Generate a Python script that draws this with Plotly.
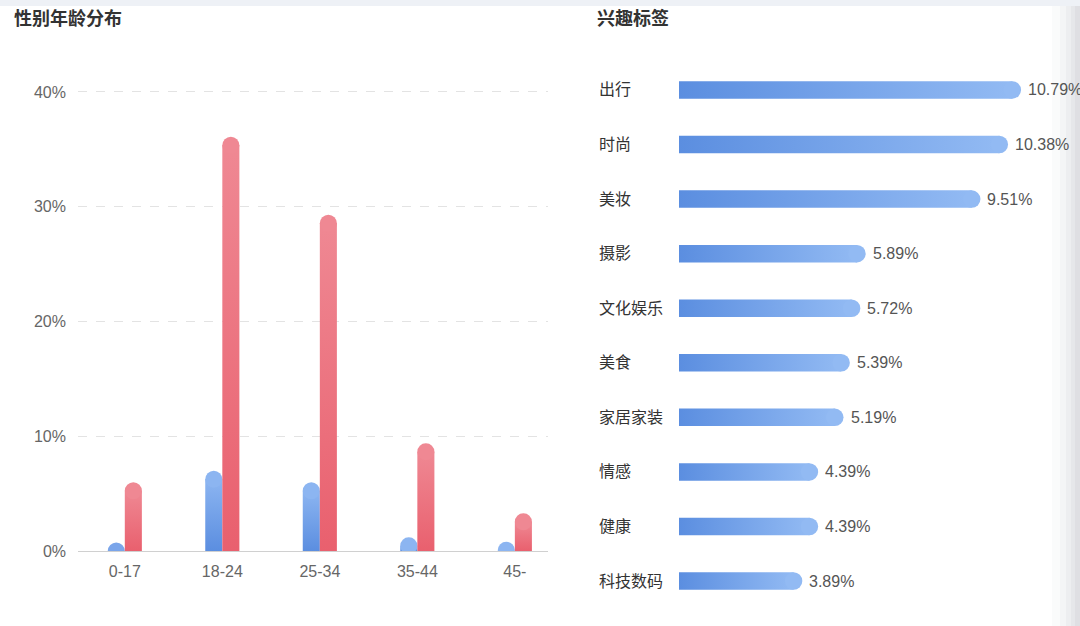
import plotly.graph_objects as go

# ---- data ----
age_groups = ["0-17", "18-24", "25-34", "35-44", "45-"]
female_pct = [0.7, 7.0, 6.0, 1.2, 0.8]
male_pct = [6.0, 36.1, 29.3, 9.4, 3.3]
age_ticks = [0, 10, 20, 30, 40]

interests = ["出行", "时尚", "美妆", "摄影", "文化娱乐", "美食", "家居家装", "情感", "健康", "科技数码"]
interest_pct = [10.79, 10.38, 9.51, 5.89, 5.72, 5.39, 5.19, 4.39, 4.39, 3.89]

W, H = 1080, 626
FONT = "Liberation Sans, Noto Sans CJK SC, sans-serif"

def px_x(p):
    return p / W

def px_y(p):
    return 1 - p / H

# --- geometry (style) ---
L_X0, L_X1 = 78, 548
L_XRANGE = [-0.48, 4.34]
L_PX_PER_CAT = (L_X1 - L_X0) / (L_XRANGE[1] - L_XRANGE[0])
L_PX_PER_PCT = 11.475
Y_TOP = 40.3
BAR_W = 0.175                      # category units
BAR_W_PX = BAR_W * L_PX_PER_CAT
R_LEFT = (BAR_W_PX / 2) / L_PX_PER_PCT   # cap radius in % units

R_X0 = 679
R_PX_PER_PCT = 31.7
R_Y0, R_Y1 = 62.7, 608.3
R_PX_PER_CAT = (R_Y1 - R_Y0) / len(interests)
HBAR_H = 0.32
HBAR_H_PX = HBAR_H * R_PX_PER_CAT
R_RIGHT = (HBAR_H_PX / 2) / R_PX_PER_PCT

BLUE_V = [[0, "#5b8ee0"], [1, "#8cb5f1"]]
RED_V = [[0, "#e9606e"], [1, "#ef8893"]]
BLUE_H = [[0, "#5b8ee0"], [1, "#92baf3"]]

fig = go.Figure()

def vbar(i, v, offset, cscale, top_color):
    x0, x1 = i + offset, i + offset + BAR_W
    y_end = max(v - R_LEFT, 0.0)
    if y_end > 0:
        fig.add_trace(go.Scatter(
            x=[x0, x1, x1, x0, x0], y=[0, 0, y_end, y_end, 0],
            mode="lines", line=dict(width=0), fill="toself",
            fillgradient=dict(type="vertical", colorscale=cscale, start=0, stop=y_end),
            xaxis="x", yaxis="y", hoverinfo="skip", showlegend=False,
        ))
    fig.add_trace(go.Scatter(
        x=[(x0 + x1) / 2], y=[y_end], mode="markers",
        marker=dict(size=BAR_W_PX, color=top_color if y_end > 0 else "#7aa5ea",
                    line=dict(width=0)),
        xaxis="x", yaxis="y", hoverinfo="skip", showlegend=False, cliponaxis=True,
    ))

for i, v in enumerate(female_pct):
    vbar(i, v, -BAR_W, BLUE_V, BLUE_V[1][1])
for i, v in enumerate(male_pct):
    vbar(i, v, 0.0, RED_V, RED_V[1][1])

# right: horizontal bars with horizontal gradient
for i, v in enumerate(interest_pct):
    x_end = v - R_RIGHT
    y0, y1 = i - HBAR_H / 2, i + HBAR_H / 2
    fig.add_trace(go.Scatter(
        x=[0, x_end, x_end, 0, 0], y=[y0, y0, y1, y1, y0],
        mode="lines", line=dict(width=0), fill="toself",
        fillgradient=dict(type="horizontal", colorscale=BLUE_H, start=0, stop=x_end),
        xaxis="x2", yaxis="y2", hoverinfo="skip", showlegend=False,
    ))
fig.add_trace(go.Scatter(
    x=[v - R_RIGHT for v in interest_pct], y=list(range(len(interests))),
    mode="markers", marker=dict(size=HBAR_H_PX, color=BLUE_H[1][1], line=dict(width=0)),
    xaxis="x2", yaxis="y2", hoverinfo="skip", showlegend=False,
))

annotations = []
for i, (name, v) in enumerate(zip(interests, interest_pct)):
    annotations.append(dict(
        x=px_x(597), xref="paper", y=i, yref="y2", text=name,
        xanchor="left", yanchor="middle", showarrow=False,
        font=dict(family=FONT, size=16, color="#333333"),
    ))
    annotations.append(dict(
        x=v, xref="x2", y=i, yref="y2", text=f"{v:.2f}%",
        xanchor="left", yanchor="middle", showarrow=False, xshift=5,
        font=dict(family=FONT, size=16, color="#555555"),
    ))

annotations.append(dict(
    x=px_x(12), xref="paper", y=px_y(18), yref="paper", text="<b>性别年龄分布</b>",
    xanchor="left", yanchor="middle", showarrow=False,
    font=dict(family=FONT, size=18, color="#333333"),
))
annotations.append(dict(
    x=px_x(595), xref="paper", y=px_y(18), yref="paper", text="<b>兴趣标签</b>",
    xanchor="left", yanchor="middle", showarrow=False,
    font=dict(family=FONT, size=18, color="#333333"),
))

shapes = [
    dict(type="rect", xref="paper", yref="paper", x0=0, x1=1, y0=px_y(6), y1=1,
         fillcolor="#eef1f6", line=dict(width=0), layer="below"),
]
for x0, op in [(1052, 0.04), (1060, 0.05), (1066, 0.06), (1071, 0.07), (1075, 0.08)]:
    shapes.append(dict(type="rect", xref="paper", yref="paper", x0=px_x(x0), x1=1,
                       y0=0, y1=px_y(6), fillcolor="#8a8f99", opacity=op,
                       line=dict(width=0), layer="above"))

fig.update_layout(
    width=W, height=H, autosize=False,
    margin=dict(l=0, r=0, t=0, b=0, pad=0, autoexpand=False),
    paper_bgcolor="white", plot_bgcolor="white",
    showlegend=False,
    font=dict(family=FONT, size=16, color="#666666"),
    xaxis=dict(
        domain=[px_x(L_X0), px_x(L_X1)], range=L_XRANGE,
        tickvals=list(range(len(age_groups))), ticktext=age_groups,
        showgrid=False, zeroline=False, showline=True, linecolor="#d0d0d0", linewidth=1,
        ticks="", ticklabelstandoff=6, automargin=False,
        tickfont=dict(family=FONT, size=16, color="#666666"),
        fixedrange=True,
    ),
    yaxis=dict(
        domain=[px_y(551), px_y(551 - Y_TOP * L_PX_PER_PCT)], range=[0, Y_TOP],
        tickvals=age_ticks, ticktext=[f"{v}%" for v in age_ticks],
        showgrid=True, gridcolor="#e3e3e3", griddash="dash", gridwidth=1,
        zeroline=False, showline=False, ticks="", ticklabelstandoff=11, automargin=False,
        tickfont=dict(family=FONT, size=16, color="#666666"),
        fixedrange=True,
    ),
    xaxis2=dict(
        domain=[px_x(R_X0), 1.0], range=[0, (1080 - R_X0) / R_PX_PER_PCT],
        visible=False, fixedrange=True, automargin=False,
    ),
    yaxis2=dict(
        domain=[px_y(R_Y1), px_y(R_Y0)], range=[len(interests) - 0.5, -0.5],
        anchor="x2", visible=False, fixedrange=True, automargin=False,
    ),
    annotations=annotations,
    shapes=shapes,
)

fig.write_html(
    "out.html",
    config={"displayModeBar": False, "responsive": False},
    post_script="document.body.style.margin='0';document.body.style.padding='0';document.body.style.overflow='hidden';",
)
